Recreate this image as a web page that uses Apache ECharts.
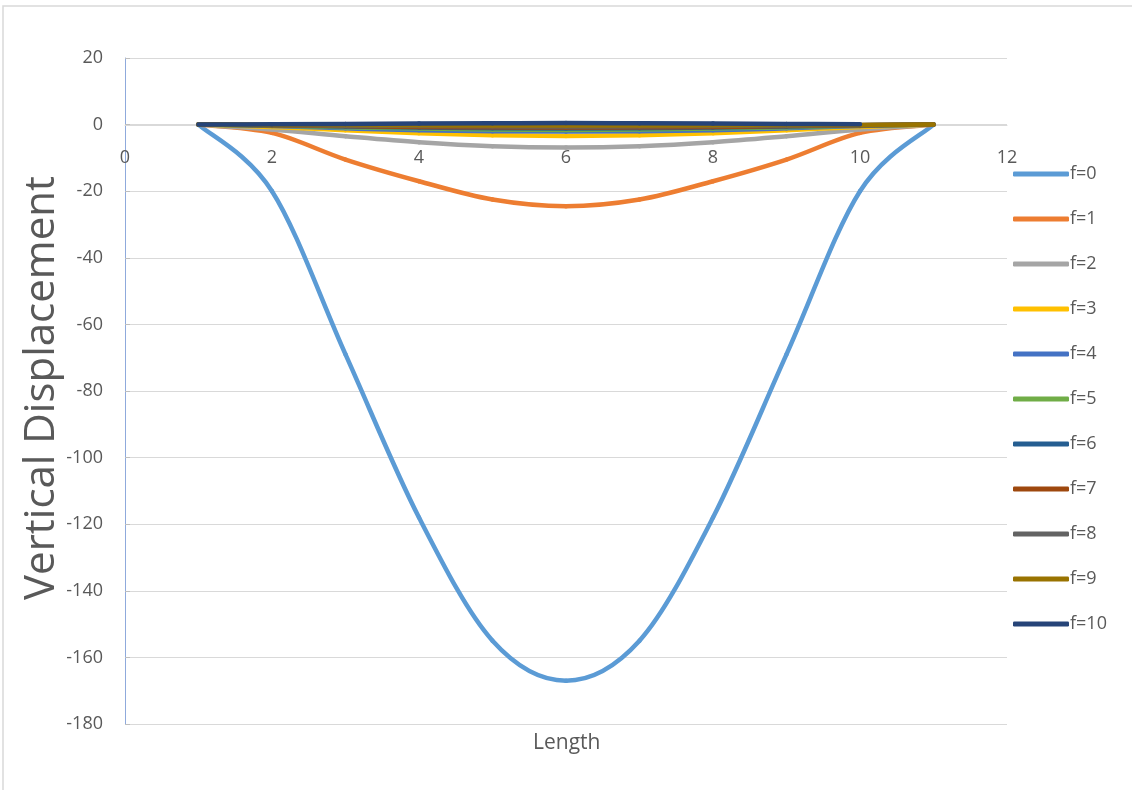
<!DOCTYPE html>
<html>
<head>
<meta charset="utf-8">
<script src="https://cdn.jsdelivr.net/npm/echarts@6/dist/echarts.min.js"></script>
<style>html,body{margin:0;padding:0;background:#fff}#c{width:1132px;height:790px}</style>
</head>
<body>
<div id="c"></div>
<script>
var xs = [1, 2, 3, 4, 5, 6, 7, 8, 9, 10, 11];
var names = ['f=0','f=1','f=2','f=3','f=4','f=5','f=6','f=7','f=8','f=9','f=10'];
var f0 = [0, -20, -69, -118, -155, -167, -155, -118, -69, -20, 0];
var f1 = [0, -2.5, -10.5, -17, -22.5, -24.5, -22.5, -17, -10.5, -2.5, 0];
var f2 = [0, -1.5, -3.5, -5.3, -6.5, -6.9, -6.5, -5.3, -3.5, -1.5, 0];
var f3 = [0, -0.7, -1.7, -2.6, -3.2, -3.4, -3.2, -2.6, -1.7, -0.7, 0];
var f4 = [0, -0.4, -1.1, -1.7, -2.0, -2.1, -2.0, -1.7, -1.1, -0.4, 0];
var f5 = [0, -0.3, -0.8, -1.2, -1.5, -1.6, -1.5, -1.2, -0.8, -0.3, 0];
var f6 = [0, -0.2, -0.6, -0.9, -1.1, -1.2, -1.1, -0.9, -0.6, -0.2, 0];
var f7 = [0, -0.2, -0.4, -0.7, -0.8, -0.9, -0.8, -0.7, -0.4, -0.2, 0];
var f8 = [0, -0.1, -0.3, -0.4, -0.5, -0.6, -0.5, -0.4, -0.3, -0.1, 0];
var f9 = [0, -0.1, -0.1, -0.2, -0.3, -0.3, -0.3, -0.2, -0.1, -0.1, 0];
var f10 = [0, 0.1, 0.2, 0.3, 0.4, 0.5, 0.4, 0.3, 0.2, 0.1];
var xTicks = [0, 2, 4, 6, 8, 10, 12];
var yTicks = [-180, -160, -140, -120, -100, -80, -60, -40, -20, 0, 20];
var colors = ['#5B9BD5','#ED7D31','#A5A5A5','#FFC000','#4472C4','#70AD47','#255E91','#9E480E','#636363','#997300','#264478'];
var allData = [f0,f1,f2,f3,f4,f5,f6,f7,f8,f9,f10];

var FONT = "'Open Sans', 'Noto Sans', sans-serif";

// Smooth (Catmull-Rom style, like the spreadsheet's smoothed scatter line), drawn via axis scales
function makeRender(arr, color) {
  return function (params, api) {
    var i = params.dataIndex;
    var n = arr.length;
    if (i >= n - 1) return null;
    var P = function (k) {
      k = Math.max(0, Math.min(n - 1, k));
      return api.coord([xs[k], arr[k]]);
    };
    var p0 = P(i - 1), p1 = P(i), p2 = P(i + 1), p3 = P(i + 2);
    var t = 1 / 6;
    return {
      type: 'bezierCurve',
      shape: {
        x1: p1[0], y1: p1[1], x2: p2[0], y2: p2[1],
        cpx1: p1[0] + (p2[0] - p0[0]) * t, cpy1: p1[1] + (p2[1] - p0[1]) * t,
        cpx2: p2[0] - (p3[0] - p1[0]) * t, cpy2: p2[1] - (p3[1] - p1[1]) * t
      },
      style: { fill: null, stroke: color, lineWidth: 4.5, lineCap: 'round', lineJoin: 'round' },
      silent: true
    };
  };
}

var series = allData.map(function (arr, i) {
  return {
    name: names[i], type: 'custom',
    data: arr.map(function (v, j) { return [xs[j], v]; }),
    encode: { x: 0, y: 1 },
    renderItem: makeRender(arr, colors[i]),
    itemStyle: { color: colors[i] },
    clip: false,
    animation: false
  };
});

var chart = echarts.init(document.getElementById('c'), null, { renderer: 'canvas' });
chart.setOption({
  animation: false,
  color: colors,
  textStyle: { fontFamily: FONT },
  grid: { left: 125, right: 125, top: 58, bottom: 66, containLabel: false },
  graphic: [
    { type: 'rect', shape: { x: 3, y: 6, width: 1140, height: 800 }, style: { fill: 'none', stroke: '#d9d9d9', lineWidth: 1.5 }, silent: true },
    { type: 'text', left: 533, top: 733, style: { text: 'Length', fontSize: 21, fill: '#595959', fontFamily: FONT } },
    { type: 'text', x: 42, y: 388, rotation: Math.PI / 2,
      style: { text: 'Vertical Displacement', fontSize: 42, fill: '#595959', fontFamily: FONT, align: 'center', verticalAlign: 'middle' } }
  ],
  legend: {
    orient: 'vertical', left: 1008, top: 159,
    itemWidth: 56, itemHeight: 5, itemGap: 25,
    icon: 'roundRect',
    textStyle: { fontSize: 18, color: '#595959', lineHeight: 20, padding: [0, 0, 0, -4] },
    data: names.map(function (n, i) { return { name: n, itemStyle: { color: colors[i] } }; })
  },
  xAxis: {
    type: 'value', min: xTicks[0], max: xTicks[xTicks.length - 1], interval: 2,
    position: 'bottom', offset: -599,
    axisLine: { onZero: false, lineStyle: { color: '#d9d9d9', width: 1 } },
    axisTick: { show: false },
    axisLabel: { color: '#595959', fontSize: 18, margin: 24, fontFamily: FONT },
    splitLine: { show: false }
  },
  yAxis: {
    type: 'value', min: yTicks[0], max: yTicks[yTicks.length - 1], interval: 20,
    axisLine: { show: true, onZero: false, lineStyle: { color: '#8FAADC', width: 1 } },
    axisTick: { show: true, inside: true, length: 5, lineStyle: { color: '#bfbfbf' } },
    axisLabel: { color: '#595959', fontSize: 18, margin: 22, fontFamily: FONT },
    splitLine: { show: true, lineStyle: { color: '#d9d9d9', width: 1 } }
  },
  series: series
});
</script>
</body>
</html>
